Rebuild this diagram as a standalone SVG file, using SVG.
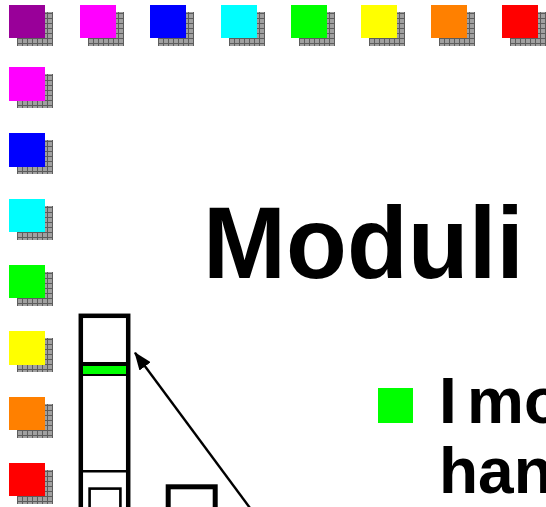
<svg xmlns="http://www.w3.org/2000/svg" width="546" height="507" viewBox="0 0 546 507">
  <defs>
    <pattern id="grid" patternUnits="userSpaceOnUse" width="5" height="5">
      <rect width="5" height="5" fill="#a0a0a0"/>
      <rect x="3" y="0" width="1" height="5" fill="#5c5c5c"/>
      <rect x="0" y="3" width="5" height="1" fill="#5c5c5c"/>
    </pattern>
    <marker id="head" markerWidth="18" markerHeight="14" refX="17" refY="7" orient="auto" markerUnits="userSpaceOnUse">
      <path d="M0,0 L18,7 L0,14 Z" fill="#000"/>
    </marker>
  </defs>
  <style>
    .shadow { fill: url(#grid); }
    .tile { stroke: none; }
    .frame { fill: #fff; stroke: #000; }
    .title { font-family: "Liberation Sans", Arial, sans-serif; font-weight: bold; font-size: 102px; fill: #000; }
    .body { font-family: "Liberation Sans", Arial, sans-serif; font-weight: bold; font-size: 64px; fill: #000; }
  </style>

  <rect width="546" height="507" fill="#fff"/>

  <!-- colour swatches with hatched drop shadow -->
  <g id="swatches">
    <g id="top-purple" transform="translate(9,5)"><rect class="shadow" x="8" y="7" width="36" height="34"/><rect class="tile" width="36" height="33" fill="#990099"/></g>
    <g id="top-magenta" transform="translate(80,5)"><rect class="shadow" x="8" y="7" width="36" height="34"/><rect class="tile" width="36" height="33" fill="#ff00ff"/></g>
    <g id="top-blue" transform="translate(150,5)"><rect class="shadow" x="8" y="7" width="36" height="34"/><rect class="tile" width="36" height="33" fill="#0000ff"/></g>
    <g id="top-cyan" transform="translate(221,5)"><rect class="shadow" x="8" y="7" width="36" height="34"/><rect class="tile" width="36" height="33" fill="#00ffff"/></g>
    <g id="top-green" transform="translate(291,5)"><rect class="shadow" x="8" y="7" width="36" height="34"/><rect class="tile" width="36" height="33" fill="#00ff00"/></g>
    <g id="top-yellow" transform="translate(361,5)"><rect class="shadow" x="8" y="7" width="36" height="34"/><rect class="tile" width="36" height="33" fill="#ffff00"/></g>
    <g id="top-orange" transform="translate(431,5)"><rect class="shadow" x="8" y="7" width="36" height="34"/><rect class="tile" width="36" height="33" fill="#ff8000"/></g>
    <g id="top-red" transform="translate(502,5)"><rect class="shadow" x="8" y="7" width="36" height="34"/><rect class="tile" width="36" height="33" fill="#ff0000"/></g>

    <g id="left-magenta" transform="translate(9,67)"><rect class="shadow" x="8" y="7" width="36" height="34"/><rect class="tile" width="36" height="34" fill="#ff00ff"/></g>
    <g id="left-blue" transform="translate(9,133)"><rect class="shadow" x="8" y="7" width="36" height="34"/><rect class="tile" width="36" height="34" fill="#0000ff"/></g>
    <g id="left-cyan" transform="translate(9,199)"><rect class="shadow" x="8" y="7" width="36" height="34"/><rect class="tile" width="36" height="33" fill="#00ffff"/></g>
    <g id="left-green" transform="translate(9,265)"><rect class="shadow" x="8" y="7" width="36" height="34"/><rect class="tile" width="36" height="33" fill="#00ff00"/></g>
    <g id="left-yellow" transform="translate(9,331)"><rect class="shadow" x="8" y="7" width="36" height="34"/><rect class="tile" width="36" height="34" fill="#ffff00"/></g>
    <g id="left-orange" transform="translate(9,397)"><rect class="shadow" x="8" y="7" width="36" height="34"/><rect class="tile" width="36" height="33" fill="#ff8000"/></g>
    <g id="left-red" transform="translate(9,463)"><rect class="shadow" x="8" y="7" width="36" height="34"/><rect class="tile" width="36" height="33" fill="#ff0000"/></g>
  </g>

  <!-- title -->
  <g id="title">
    <text class="title" x="203" y="278" textLength="321" lengthAdjust="spacingAndGlyphs">Moduli</text>
  </g>

  <!-- memory column -->
  <g id="memory-column">
    <rect class="frame" x="80.8" y="315.8" width="47.4" height="200" stroke-width="4.5"/>
    <rect x="83" y="362" width="43" height="4" fill="#000"/>
    <rect x="83" y="366" width="43" height="8" fill="#00ff00"/>
    <rect x="83" y="374" width="43" height="2" fill="#000"/>
    <rect x="83" y="470" width="43" height="2.5" fill="#000"/>
    <rect class="frame" x="89.6" y="488.6" width="30.8" height="30" stroke-width="2.6"/>
  </g>

  <!-- second block -->
  <g id="module-block">
    <rect class="frame" x="168.2" y="486.8" width="47" height="40" stroke-width="5"/>
  </g>

  <!-- bullet point -->
  <g id="bullet">
    <rect x="378" y="388" width="35" height="35" fill="#00ff00"/>
    <text class="body" x="439" y="423">I<tspan x="467">mo</tspan></text>
    <text class="body" x="439" y="492.5">han</text>
  </g>

  <g id="connectors">
    <line x1="250" y1="508" x2="135" y2="352.7" stroke="#000" stroke-width="2.4" marker-end="url(#head)"/>
  </g>
</svg>
